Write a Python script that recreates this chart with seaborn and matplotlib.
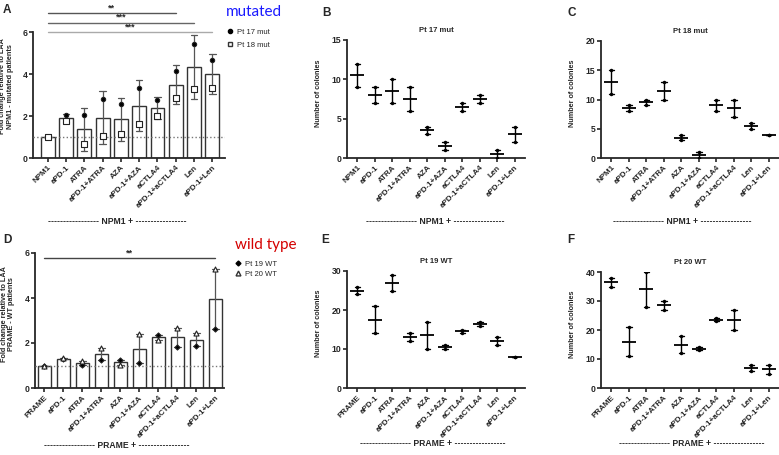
import numpy as np
import pandas as pd
import seaborn as sns
import matplotlib.pyplot as plt
from matplotlib.lines import Line2D

sns.set_style("ticks")
plt.rcParams['font.family'] = ['Liberation Sans', 'DejaVu Sans']

W, H = 779, 455

# categories
treat = ['aPD-1', 'ATRA', 'aPD-1+ATRA', 'AZA', 'aPD-1+AZA',
         'aCTLA4', 'aPD-1+aCTLA4', 'Len', 'aPD-1+Len']
npm1_cats = ['NPM1'] + treat
prame_cats = ['PRAME'] + treat

# A: fold change, NPM1 mutated patients
pt17_fold = [1.0, 2.04, 2.07, 2.81, 2.57, 3.35, 2.74, 4.15, 5.42, 4.68]
pt18_fold = [1.0, 1.77, 0.65, 1.04, 1.12, 1.63, 1.99, 2.84, 3.27, 3.31]

# D: fold change, PRAME WT patients
pt19_fold = [1.0, 1.27, 1.04, 1.23, 1.26, 1.10, 2.36, 1.83, 1.85, 2.64]
pt20_fold = [1.0, 1.35, 1.19, 1.78, 1.02, 2.39, 2.13, 2.68, 2.45, 5.30]

# B-F: colony counts (two replicates each)
pt17_hi = [12, 9, 10, 9, 4, 2, 7, 8, 1, 4]
pt17_lo = [9, 7, 7, 6, 3, 1, 6, 7, 0, 2]
pt18_hi = [15, 9, 10, 13, 4, 1, 10, 10, 6, 4]
pt18_lo = [11, 8, 9, 10, 3, 0, 8, 7, 5, 4]
pt19_hi = [26, 21, 29, 14, 17, 11, 15, 17, 13, 8]
pt19_lo = [24, 14, 25, 12, 10, 10, 14, 16, 11, 8]
pt20_hi = [38, 21, 40, 30, 18, 14, 24, 27, 8, 8]
pt20_lo = [35, 11, 28, 27, 12, 13, 23, 20, 6, 5]


def long_df(cats, **series):
    rows = []
    for name, vals in series.items():
        for c, v in zip(cats, vals):
            rows.append({'trt': c, 'val': v, 'pt': name})
    return pd.DataFrame(rows)


fig = plt.figure(figsize=(W / 100, H / 100), dpi=100)


def px_axes(l, t, r, b):
    return fig.add_axes([l / W, 1 - b / H, (r - l) / W, (b - t) / H])


def style(ax, cats, ylim, yticks, xlim, ylabel, lab_x, lab_y=0.55):
    ax.set_xlim(*xlim)
    ax.set_ylim(*ylim)
    ax.set_yticks(yticks)
    ax.set_xticks(range(len(cats)))
    ax.set_xticklabels(cats, rotation=45, ha='right', rotation_mode='anchor',
                       fontsize=5.8, fontweight='bold')
    ax.tick_params(axis='y', labelsize=6.2, width=1.2, length=3, pad=1)
    for lbl in ax.get_yticklabels():
        lbl.set_fontweight('bold')
    ax.tick_params(axis='x', width=1.2, length=3, pad=1.5)
    sns.despine(ax=ax)
    for s in ['left', 'bottom']:
        ax.spines[s].set_linewidth(1.3)
    ax.set_xlabel('')
    ax.set_ylabel(ylabel, fontsize=5.2, fontweight='bold', linespacing=1.1)
    ax.yaxis.set_label_coords(lab_x, lab_y)


def bar_panel(ax, df, cats, errorbar, width, markers):
    sns.barplot(data=df, x='trt', y='val', order=cats, errorbar=errorbar,
                width=width, color='white', edgecolor='#333', linewidth=1,
                saturation=1, capsize=0.35,
                err_kws={'color': '#555', 'linewidth': 0.9}, ax=ax)
    for pt, (mk, fc, size) in markers.items():
        sns.stripplot(data=df[df.pt == pt], x='trt', y='val', order=cats,
                      jitter=False, marker=mk, color=fc, edgecolor='#222',
                      linewidth=0.8, size=size, ax=ax, zorder=4)
    ax.axhline(1, ls=':', color='#777', lw=1, zorder=3)


def dot_panel(ax, cats, hi, lo, title):
    df = long_df(cats, hi=hi, lo=lo)
    sns.pointplot(data=df, x='trt', y='val', order=cats, errorbar=('pi', 100),
                  capsize=0.3, color='black', marker='_', markersize=10,
                  markeredgewidth=1.3, linestyle='none',
                  err_kws={'linewidth': 1}, ax=ax)
    sns.stripplot(data=df, x='trt', y='val', order=cats, jitter=False,
                  color='black', size=2.5, ax=ax, zorder=4)
    ax.set_title(title, fontsize=5.5, fontweight='bold', pad=6)


# ---- A ----
axA = px_axes(33, 32, 225, 158)
dfA = long_df(npm1_cats, pt17=pt17_fold, pt18=pt18_fold)
bar_panel(axA, dfA, npm1_cats, 'sd', 0.76,
          {'pt17': ('o', 'black', 3.1), 'pt18': ('s', 'white', 3.7)})
style(axA, npm1_cats, (0, 6), [0, 2, 4, 6], (-0.8, 9.69),
      'Fold change relative to LAA\nNPM1 - mutated patients', -0.10, 0.57)
for x1, y, stars, col in [(7, 6.9, '**', '#555'), (8, 6.45, '***', '#666'),
                          (9, 5.98, '***', '#aaa')]:
    axA.plot([0, x1], [y, y], color=col, lw=1, clip_on=False)
    axA.text(x1 / 2, y + 0.05, stars, ha='center', va='bottom', fontsize=6.5,
             fontweight='bold', clip_on=False)

# ---- D ----
axD = px_axes(35, 253, 224, 388)
dfD = long_df(prame_cats, pt19=pt19_fold, pt20=pt20_fold)
bar_panel(axD, dfD, prame_cats, ('pi', 100), 0.7,
          {'pt19': ('D', 'black', 2.6), 'pt20': ('^', 'white', 3.6)})
style(axD, prame_cats, (0, 6), [0, 2, 4, 6], (-0.5, 9.46),
      'Fold change relative to LAA\nPRAME - WT patients', -0.105, 0.55)
axD.plot([0, 9], [5.78, 5.78], color='#444', lw=1)
axD.text(4.5, 5.82, '**', ha='center', va='bottom', fontsize=6.5, fontweight='bold')

# ---- B, C, E, F ----
dot_specs = [
    ((347, 40, 525, 158), npm1_cats, pt17_hi, pt17_lo, 'Pt 17 mut', (0, 15), [0, 5, 10, 15]),
    ((601, 41, 779, 158), npm1_cats, pt18_hi, pt18_lo, 'Pt 18 mut', (0, 20), [0, 5, 10, 15, 20]),
    ((347, 271, 525, 388), prame_cats, pt19_hi, pt19_lo, 'Pt 19 WT', (0, 30), [0, 10, 20, 30]),
    ((601, 272, 779, 388), prame_cats, pt20_hi, pt20_lo, 'Pt 20 WT', (0, 40), [0, 10, 20, 30, 40]),
]
for box, cats, hi, lo, title, ylim, yt in dot_specs:
    ax = px_axes(*box)
    dot_panel(ax, cats, hi, lo, title)
    style(ax, cats, ylim, yt, (-0.6, 9.58), 'Number of colonies', -0.14, 0.55)

# legends and labels
fig.text(226 / W, 1 - 12 / H, 'mutated', color='#1a1aff', fontsize=11,
         va='center', family='Lato')
fig.text(235 / W, 1 - 245 / H, 'wild type', color='#d40000', fontsize=11,
         va='center', family='Lato')

hA = [Line2D([], [], marker='o', color='black', ls='none', markersize=3),
      Line2D([], [], marker='s', mfc='white', mec='#333', ls='none', markersize=3.5)]
fig.legend(hA, ['Pt 17 mut', 'Pt 18 mut'], loc='upper left',
           bbox_to_anchor=(222 / W, 1 - 25 / H), frameon=False, fontsize=5.5,
           handlelength=1, handletextpad=0.5, labelspacing=0.7, borderpad=0)
hD = [Line2D([], [], marker='D', color='black', ls='none', markersize=2.5),
      Line2D([], [], marker='^', mfc='white', mec='#333', ls='none', markersize=3.5)]
fig.legend(hD, ['Pt 19 WT', 'Pt 20 WT'], loc='upper left',
           bbox_to_anchor=(230 / W, 1 - 257 / H), frameon=False, fontsize=5.5,
           handlelength=1, handletextpad=0.5, labelspacing=0.3, borderpad=0)

dash = '-' * 17
for x, y, name in [(117, 221, 'NPM1'), (435, 221, 'NPM1'), (682, 221, 'NPM1'),
                   (117, 445, 'PRAME'), (433, 444, 'PRAME'), (692, 444, 'PRAME')]:
    fig.text(x / W, 1 - y / H, f'{dash} {name} + {dash}', ha='center',
             va='center', fontsize=6.2, fontweight='bold')

for x, y, letter in [(3, 10, 'A'), (322, 13, 'B'), (567, 13, 'C'),
                     (3, 240, 'D'), (321, 240, 'E'), (567, 240, 'F')]:
    fig.text(x / W, 1 - y / H, letter, fontsize=8.5, fontweight='bold',
             va='center')

fig.savefig('out.png', dpi=100)
